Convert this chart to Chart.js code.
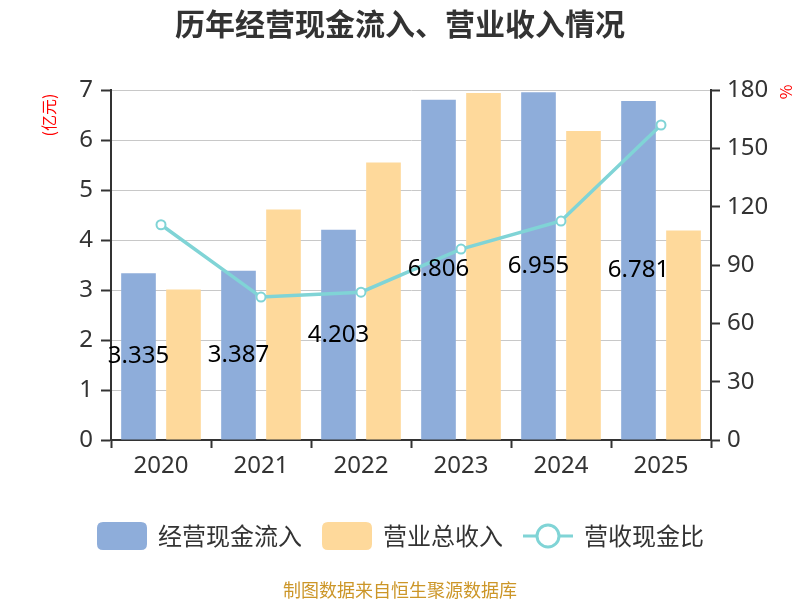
<!DOCTYPE html>
<html>
<head>
<meta charset="utf-8">
<script src="https://cdn.jsdelivr.net/npm/chart.js@4/dist/chart.umd.min.js"></script>
<style>
  html, body { margin: 0; padding: 0; background: #fff; }
  #wrap { width: 800px; height: 600px; position: relative; }
</style>
</head>
<body>
<div id="wrap"><canvas id="myChart" width="800" height="600"></canvas></div>
<script>
var years = ['2020', '2021', '2022', '2023', '2024', '2025'];
var cashIn = [3.335, 3.387, 4.203, 6.806, 6.955, 6.781];
var revenue = [3.01, 4.61, 5.55, 6.94, 6.18, 4.19];
var ratio = [110.7, 73.5, 76.0, 98.2, 112.6, 162.0];
var leftTicks = [0, 1, 2, 3, 4, 5, 6, 7];
var rightTicks = [0, 30, 60, 90, 120, 150, 180];

var titleText = '历年经营现金流入、营业收入情况';
var sourceText = '制图数据来自恒生聚源数据库';
var names = ['经营现金流入', '营业总收入', '营收现金比'];

var blue = 'rgb(142, 173, 218)';
var orange = 'rgb(254, 217, 155)';
var teal = 'rgb(128, 212, 214)';
var fam = '"Noto Sans", "Noto Sans CJK SC", sans-serif';
var cjk = '"Noto Sans CJK SC", "Noto Sans", sans-serif';

function roundRect(ctx, x, y, w, h, r) {
  ctx.beginPath();
  ctx.moveTo(x + r, y);
  ctx.lineTo(x + w - r, y);
  ctx.quadraticCurveTo(x + w, y, x + w, y + r);
  ctx.lineTo(x + w, y + h - r);
  ctx.quadraticCurveTo(x + w, y + h, x + w - r, y + h);
  ctx.lineTo(x + r, y + h);
  ctx.quadraticCurveTo(x, y + h, x, y + h - r);
  ctx.lineTo(x, y + r);
  ctx.quadraticCurveTo(x, y, x + r, y);
  ctx.closePath();
}

// value labels in the middle of the blue bars
var barLabels = {
  id: 'barLabels',
  afterDatasetsDraw: function(chart) {
    var ctx = chart.ctx;
    var meta = chart.getDatasetMeta(1);
    ctx.save();
    ctx.font = '24px ' + fam;
    ctx.fillStyle = '#000';
    ctx.textAlign = 'center';
    ctx.textBaseline = 'middle';
    meta.data.forEach(function(bar, i) {
      ctx.fillText(cashIn[i].toFixed(3), bar.x, (bar.y + bar.base) / 2);
    });
    ctx.restore();
  }
};

// title, units, legend, source
var extras = {
  id: 'extras',
  afterDraw: function(chart) {
    var ctx = chart.ctx;
    ctx.save();
    ctx.fillStyle = '#333';
    ctx.font = 'bold 30px ' + cjk;
    ctx.textAlign = 'center';
    ctx.textBaseline = 'middle';
    ctx.fillText(titleText, 400, 24);

    // units
    ctx.fillStyle = '#ff0000';
    ctx.font = '16px ' + cjk;
    ctx.save();
    ctx.translate(49, 115);
    ctx.rotate(-Math.PI / 2);
    ctx.fillText('(亿元)', 0, 0);
    ctx.restore();
    ctx.save();
    ctx.translate(786, 92);
    ctx.rotate(-Math.PI / 2);
    ctx.fillText('%', 0, 0);
    ctx.restore();

    // legend
    var ly = 536;
    ctx.font = '24px ' + cjk;
    ctx.textAlign = 'left';
    ctx.fillStyle = blue;
    roundRect(ctx, 97, ly - 14, 50, 28, 6);
    ctx.fill();
    ctx.fillStyle = '#333';
    ctx.fillText(names[0], 158, ly);

    ctx.fillStyle = orange;
    roundRect(ctx, 322, ly - 14, 50, 28, 6);
    ctx.fill();
    ctx.fillStyle = '#333';
    ctx.fillText(names[1], 383, ly);

    ctx.strokeStyle = teal;
    ctx.lineWidth = 3;
    ctx.beginPath();
    ctx.moveTo(523, ly);
    ctx.lineTo(573, ly);
    ctx.stroke();
    ctx.beginPath();
    ctx.arc(548, ly, 11, 0, Math.PI * 2);
    ctx.fillStyle = '#fff';
    ctx.fill();
    ctx.stroke();
    ctx.fillStyle = '#333';
    ctx.fillText(names[2], 584, ly);

    // source
    ctx.fillStyle = 'rgb(204, 150, 40)';
    ctx.font = '18px ' + cjk;
    ctx.textAlign = 'center';
    ctx.fillText(sourceText, 400, 590);
    ctx.restore();
  }
};

var ctx = document.getElementById('myChart').getContext('2d');
var chart = new Chart(ctx, {
  type: 'bar',
  data: {
    labels: years,
    datasets: [{
      type: 'line',
      label: names[2],
      data: ratio,
      yAxisID: 'y1',
      borderColor: teal,
      borderWidth: 3.5,
      pointBackgroundColor: '#fff',
      pointBorderColor: teal,
      pointBorderWidth: 2,
      pointRadius: 4.5,
      tension: 0,
      order: 0
    }, {
      label: names[0],
      data: cashIn,
      yAxisID: 'y',
      backgroundColor: blue,
      categoryPercentage: 0.9,
      barPercentage: 0.77,
      order: 1
    }, {
      label: names[1],
      data: revenue,
      yAxisID: 'y',
      backgroundColor: orange,
      categoryPercentage: 0.9,
      barPercentage: 0.77,
      order: 1
    }]
  },
  options: {
    responsive: false,
    animation: false,
    layout: { padding: { top: 90, left: 0, right: 0, bottom: 0 } },
    plugins: {
      legend: { display: false },
      title: { display: false },
      tooltip: { enabled: false }
    },
    scales: {
      x: {
        offset: true,
        grid: { display: true, drawOnChartArea: false, offset: true, tickLength: 8, tickColor: '#333', tickWidth: 2 },
        border: { color: '#333', width: 2 },
        ticks: { color: '#333', font: { size: 24, family: fam }, padding: 4, maxRotation: 0 },
        afterFit: function(scale) { scale.height = 160; }
      },
      y: {
        position: 'left',
        min: 0,
        max: 7,
        afterBuildTicks: function(scale) { scale.ticks = leftTicks.map(function(v) { return { value: v }; }); },
        grid: { color: '#c8c8c8', lineWidth: 1, tickLength: 10, tickColor: '#333', tickWidth: 2 },
        border: { color: '#333', width: 2 },
        ticks: { color: '#333', font: { size: 24, family: fam }, padding: 8 },
        afterFit: function(scale) { scale.width = 111; }
      },
      y1: {
        position: 'right',
        min: 0,
        max: 180,
        afterBuildTicks: function(scale) { scale.ticks = rightTicks.map(function(v) { return { value: v }; }); },
        grid: { drawOnChartArea: false, tickLength: 9, tickColor: '#333', tickWidth: 2 },
        border: { color: '#333', width: 2 },
        ticks: { color: '#333', font: { size: 24, family: fam }, padding: 7 },
        afterFit: function(scale) { scale.width = 89; }
      }
    }
  },
  plugins: [barLabels, extras]
});
</script>
</body>
</html>
